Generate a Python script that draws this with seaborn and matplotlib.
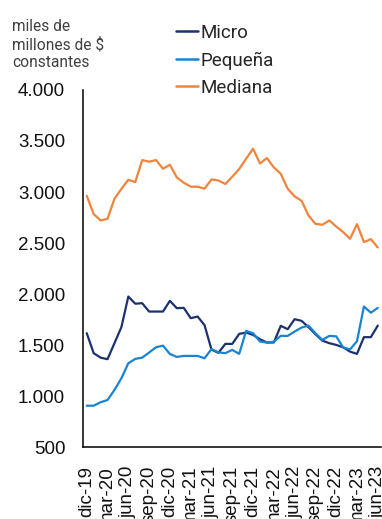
import matplotlib
matplotlib.use("Agg")
import matplotlib.pyplot as plt
from matplotlib.lines import Line2D
from matplotlib.ticker import FuncFormatter, MultipleLocator, FixedLocator
import numpy as np
import pandas as pd
import seaborn as sns

# Monthly series, dic-19 .. jun-23 (miles de millones de $ constantes)
micro = [1616, 1420, 1376, 1361, 1518, 1675, 1975, 1905, 1910, 1828,
         1828, 1828, 1933, 1861, 1864, 1763, 1779, 1695, 1455, 1423,
         1511, 1511, 1609, 1622, 1599, 1557, 1524, 1525, 1688, 1655,
         1753, 1737, 1675, 1606, 1543, 1518, 1501, 1478, 1435, 1413,
         1577, 1577, 1690]
pequena = [905, 905, 939, 961, 1059, 1174, 1321, 1364, 1376, 1426,
           1478, 1494, 1412, 1383, 1393, 1393, 1393, 1370, 1460, 1428,
           1420, 1452, 1413, 1638, 1616, 1534, 1524, 1532, 1590, 1589,
           1632, 1671, 1690, 1616, 1550, 1589, 1585, 1476, 1457, 1537,
           1877, 1817, 1864]
mediana = [2963, 2784, 2721, 2737, 2934, 3030, 3120, 3097, 3313, 3297,
           3313, 3228, 3267, 3143, 3091, 3052, 3052, 3033, 3123, 3113,
           3078, 3150, 3225, 3326, 3424, 3280, 3333, 3241, 3179, 3032,
           2957, 2914, 2770, 2688, 2679, 2721, 2662, 2607, 2541, 2685,
           2509, 2538, 2456]
series_names = ["Micro", "Pequeña", "Mediana"]
colors = ["#1c3170", "#1884d2", "#f0843c"]
tick_labels = ["dic-19", "mar-20", "jun-20", "sep-20", "dic-20", "mar-21",
               "jun-21", "sep-21", "dic-21", "mar-22", "jun-22", "sep-22",
               "dic-22", "mar-23", "jun-23"]
y_ticks = [500, 1000, 1500, 2000, 2500, 3000, 3500, 4000]

n = len(micro)
df = pd.DataFrame({
    "mes": np.tile(np.arange(n), 3),
    "valor": micro + pequena + mediana,
    "serie": np.repeat(series_names, n),
})

sns.set_style("white")
plt.rcParams["font.family"] = ["Liberation Sans", "DejaVu Sans"]

fig = plt.figure(figsize=(3.82, 5.19), dpi=100)
ax = fig.add_axes([0.218, 0.1387, 0.780, 0.6879])

sns.lineplot(data=df, x="mes", y="valor", hue="serie", palette=colors,
             hue_order=series_names, linewidth=1.6, legend=False, ax=ax)

ax.set_xlim(-0.5, n - 0.5)
ax.set_ylim(500, 4000)
ax.set_xlabel("")
ax.set_ylabel("")

ax.yaxis.set_major_locator(FixedLocator(y_ticks))
ax.yaxis.set_major_formatter(
    FuncFormatter(lambda v, p: f"{int(v):,}".replace(",", ".")))
ax.xaxis.set_major_locator(FixedLocator(range(0, n, 3)))
ax.set_xticklabels(tick_labels, rotation=90)
ax.xaxis.set_minor_locator(MultipleLocator(1))

ax.tick_params(axis="y", direction="in", length=5, width=1,
               color="#808080", labelsize=13.5, pad=13, labelcolor="#111111")
ax.tick_params(axis="x", which="both", direction="in", length=3, width=0.8,
               color="#333333", labelsize=13.5, pad=13.5, labelcolor="#111111")

for side in ["top", "right"]:
    ax.spines[side].set_visible(False)
for side in ["left", "bottom"]:
    ax.spines[side].set_color("#000000")
    ax.spines[side].set_linewidth(1.1)

fig.text(12 / 382, 1 - 19 / 519, "miles de\nmillones de $\nconstantes",
         ha="left", va="top", fontsize=11.2, color="#404040",
         family=["Roboto", "DejaVu Sans"], linespacing=1.22)

handles = [Line2D([0], [0], color=c, lw=1.8) for c in colors]
fig.legend(handles, series_names, loc="upper left",
           bbox_to_anchor=(176 / 382, 1 - 24 / 519), frameon=False,
           prop={"family": ["Roboto", "DejaVu Sans"], "size": 13.5},
           handlelength=1.15, handletextpad=0.15, labelspacing=0.5,
           borderpad=0, borderaxespad=0)

fig.savefig("out.png", dpi=100)
